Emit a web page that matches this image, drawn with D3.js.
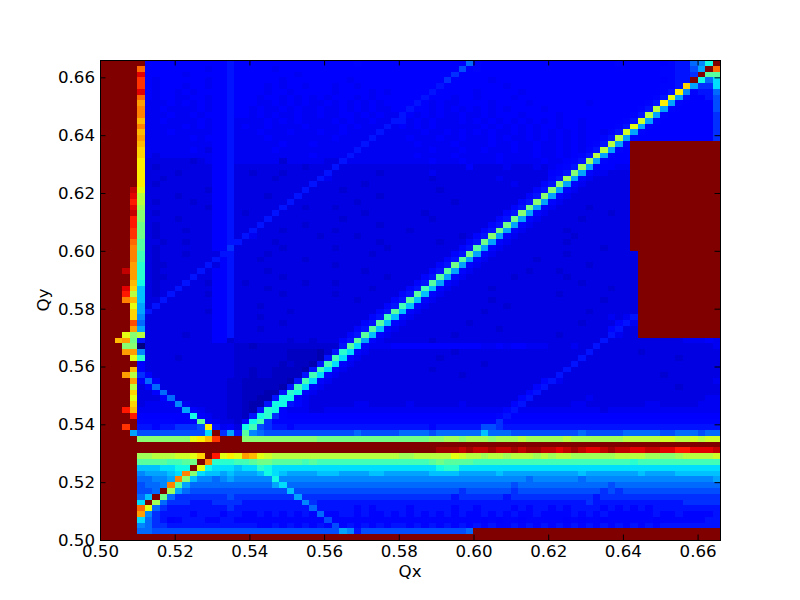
<!DOCTYPE html>
<html>
<head>
<meta charset="utf-8">
<script src="https://cdn.jsdelivr.net/npm/d3@7"></script>
<style>
body {margin: 0; background: white;}
text {font-family: "DejaVu Sans", sans-serif;}
</style>
</head>
<body>
<svg id="plot" width="800" height="600"></svg>
<script>
// tick labels
const xTicks = [0.50, 0.52, 0.54, 0.56, 0.58, 0.60, 0.62, 0.64, 0.66];
const yTicks = [0.50, 0.52, 0.54, 0.56, 0.58, 0.60, 0.62, 0.64, 0.66];
const extent = [0.50, 0.666];
const binSize = 0.002;

// one char per cell, 0 (lowest) to z (highest), top row = highest Qy
const levelChars = "0123456789abcdefghijklmnopqrstuvwxyz";
// in-between steps for the dark blues
const halfChars = ["C", "A", "B", "D"];
const halfLevels = [1.5, 2.5, 3.5, 4.5];
const levelRows = [
"zzzzzz4444 4444444544 4444444444 4444D44444 4444444448 D444444444 444444444D 444444D558 9dz",
"zzzzzs4444 4444B44544 444B444444 4444444444 4444444474 D444444444 4444444444 44444DD557 azs",
"zzzzzw4444 4B44444544 444444B444 4444444444 4444444644 4444444444 4444444444 44444DD556 zgg",
"zzzzzu4B44 4444B44544 4444B44444 444B444444 4444446444 44B4444444 4444444444 444444D55z d8c",
"zzzzzu4B44 4B44B44544 44B4B44B44 4B44B44444 4444454444 4444B44444 4444444444 44444DD5oa 66c",
"zzzzzw4B44 B4B4444544 44B44B4444 4B4444B4B4 4444544444 B44444B444 4444444444 44444D5n9D 558",
"zzzzzs4B44 BB44B44544 4B44B4B4B4 B444B4B444 4445444B44 B4444B4444 4444444444 4444D5ma54 457",
"zzzzzqBBB4 B4B4B44544 4BB4B4B4BB 4B4B4B4B44 4454B4BB44 44B4444B44 44444B4444 444D5naD44 447",
"zzzzzrBB4B BBB4B44544 B4BB4B4BB4 BB4B4B4BB4 4544B4B4B4 B4B4B4444B 4444444444 44D5kaD444 447",
"zzzzzrBBB4 BB4B444544 B4B4BB4BB4 BB44B4B4BB 54B4B4BB4B B4B444B444 4B44444444 4D5kaD4444 446",
"zzzzzpBB4B BBB4B445BB BB4B4B4BBB B4B4BB4BB5 5B4B4BBB4B 4B4B4B4B4B 4B44B44444 D5laD44444 446",
"zzzzzrBBBB B4B4B445B4 BB4BBBB4BB BB4B4BBB5B 4B4B4BBBBB B4B4B4B4B4 4B44B4444D 5maD444444 446",
"zzzzzpBBB4 BBBBB445BB B4BBB4BBB4 BB4BBBB5BB BBB4BB4B4B 4B4BB4B4B4 B4B4B44BD5 laD4444444 446",
"zzzzzqBBBB BB4B4445BB BB4BBBBBBB B4BBBB5BBB B4BBB4BB4B BB4B4BB4B4 B4B4B44D5k aD44444444 446",
"zzzzzpBBBB BBBBB445BB BBBB4BBB4B BBBBB5BBBB BB4BBBB4BB BB4BB4BB4B B4B4B4D5ka Dzzzzzzzzz zzz",
"zzzzzoBBBB BB4B3445BB BBB4BBBBBB BBBB5BBBBB BBBB4BBB4B B4BBB4BB4B B4B4BD5kaD 4zzzzzzzzz zzz",
"zzzzzoB3BB BBBBB445BB BBBBBBBB4B BBB5BBBBBB BB4BBBB4BB BBB4BBBB4B B4B4D5kaD4 4zzzzzzzzz zzz",
"zzzzzn3333 33A3B445BB BBBBABBBBB 335BBBBBBB BBBB4BBB4B BBB4BBBBB4 BB4D5jaD44 4zzzzzzzzz zzz",
"zzzzzn3A33 3333344533 3333333A33 3533333333 3333333334 3333B333B3 B4D5jaD44B Bzzzzzzzzz zzz",
"zzzzzn3333 A333344533 A333A33333 5333333A33 3333B33333 3333333333 4D5iaDBB33 3zzzzzzzzz zzz",
"zzzzzn33A3 3333344533 333A333335 B333333333 3333A33333 333B333333 D5jaDB3333 3zzzzzzzzz zzz",
"zzzzzn3A33 3333344533 3333333353 33333A3333 3333333333 33333B333D 5iaDB33333 3zzzzzzzzz zzz",
"zzzzxm3333 3333A44533 3333333533 33A3333333 33333A3333 33333333D5 iaDB333333 3zzzzzzzzz zzz",
"zzzzwk3333 A333344533 33A3335333 3333333A33 3333333333 3333333D5i aDB3333333 3zzzzzzzzz zzz",
"zzzzvk3A33 33A3344533 3333353333 3333A33333 3333333A33 333333D5ia DB33333333 3zzzzzzzzz zzz",
"zzzzwj3333 3333A44533 3333533A33 3A33333333 3333333333 33333D5haD B3333A3333 3zzzzzzzzz zzz",
"zzzzxi3A33 333334453A 3335333333 33333A3333 333A333333 3333D5iaDB 33333333A3 3zzzzzzzzz zzz",
"zzzzvi3333 A333344533 3353333333 33A3333333 3333A33333 333D5haDB3 3333A33333 3zzzzzzzzz zzz",
"zzzzvh3A33 3333344533 3533333A33 3333333A33 3333333333 33D5haDB33 3333333333 3zzzzzzzzz zzz",
"zzzzuh3A33 3A33344533 5333A33333 3A33333333 3A33333333 3D5haDB333 33A3333333 3zzzzzzzzz zzz",
"zzzzuh3A33 3333344535 B33333333A 3333A33333 33333333A3 D5iaDB3333 333A333333 3zzzzzzzzz zzz",
"zzzzsg33A3 3A33344553 333A333333 3333333A33 33333A333D 5haDB33333 33A3333333 3zzzzzzzzz zzz",
"zzzzrg3A33 3333344633 3333A33333 3A333333A3 33333333D5 gaDB333333 3333333A33 3zzzzzzzzz zzz",
"zzzzrf3A33 3A33335533 33A3333333 333333A333 3333333D5h aDB3333333 33A3333333 33zzzzzzzz zzz",
"zzzzrf3A33 3333354533 3A33333A33 3333333333 333333D5ga DB333333A3 3333333333 33zzzzzzzz zzz",
"zzzzqe3AA3 3333534533 3333333333 3A33333333 33333D5haD B333333333 33333A3333 33zzzzzzzz zzz",
"zzzxqe3A33 3335344533 33A3333333 33333A3333 3333D5gaDB 3333333A33 3A33333333 33zzzzzzzz zzz",
"zzzzqe3AA3 3353344533 3333A33333 33333333A3 333D5gaDB3 33333A3333 33A3333333 33zzzzzzzz zzz",
"zzzzpd3A33 3533A4453A 3333333A33 3A33333333 33D5gaDB33 3333333333 3333A33333 33zzzzzzzz zzz",
"zzzwob3A33 5333344533 33A3333333 333333A333 3D5fbDB333 33A3333333 33333333A3 33zzzzzzzz zzz",
"zzzvkb3A35 3333A44533 3333A33333 3A33333333 D5gbDB3333 3333333333 3A33333333 33zzzzzzzz zzz",
"zzzrpb3353 3333344533 3333333333 3333A3333D 5gbDB33333 33A3333333 3333333A33 33zzzzzzzz zzz",
"zzzzma3533 3333344533 3A33333333 33333333D5 fbDB333333 3333A33333 3333333333 33zzzzzzzz zzz",
"zzzzoa5333 3333A44533 33333A3333 3333333D5g bDB3333333 3A33333333 33333A3333 33zzzzzzzz zzz",
"zzzzo93333 3333344533 3A33333333 333333D5fb DB33333333 3333333333 33333333B3 B5zzzzzzzz zzz",
"zzzzt83333 3333344533 3333A33333 33333D5gbD B33333333A 3333333333 3333A3333D 5Bzzzzzzzz zzz",
"zzzzqa3333 3333344533 3A33333333 3333D5gbDB 3333333333 333A333333 33333333D5 33zzzzzzzz zzz",
"zzzmik3333 3A33344533 3333333333 333D5gbDB3 3333333A33 3333333333 3A3333335B 33zzzzzzzz zzz",
"zzpqh53333 3333344A33 33333A33A3 33D5gaDB33 3333A33333 3333333333 3333333533 33333333BB B4B",
"zzzii03333 33333333AA 2AAAAAAAAA AA5gcDBBB4 4444444444 4BB4B44BBB 333B335333 3333333333 33B",
"zzzqq93333 33333333AA AAAAA2222C A5ecDB3333 3333333A33 3333333333 3333353333 33A3333333 333",
"zzzzme3333 A3333333AA AAAAA2222C 5fcDB33333 33333A3333 3333333333 3333533333 3333333A33 333",
"zzzzz43333 33333333AA AAAA2A22C5 fcDB333333 3333333333 3A33333333 3335333333 3333333333 333",
"zzzzp43333 33333333AA 2AA2222C5f cDB3333333 3333A33333 3333333333 3353333333 3333333333 333",
"zzzqk64333 33333333AA 2AA22225fc DB33333333 33333333A3 3333333333 3533333333 33333A3333 333",
"zzzzq48433 3333333AA2 22222C5fcD B333333333 3333333333 333333333D 5B33333333 3333333333 33B",
"zzzzk34833 3333333AA2 2222C5fcDB 3333333333 3333333333 33333333D5 3333333333 3333333A33 333",
"zzzzo33483 3333333AA2 22CC5edDB3 3333333333 3333333333 3333333D53 3333333333 3333333333 333",
"zzzzm33348 3333333AA2 2CC5ddDB33 3333333333 3333333333 333333D533 33333B3333 3333333333 3BB",
"zzzzo3BBBB 9B33333AA2 CC5dd5DB33 3333BB3333 3B333333B3 33333D5333 333BB33333 333BB33333 BBB",
"zzzvpBBBBB Ba4B333AA2 C5edDBBB33 BBBBBBBBBB BBBBBBBBBB BBBBD5BBBB BBBBBBB3BB BBBBBBBBBB BBB",
"zzzzv44444 44d4B33AA2 5de6D44444 4444444444 4444444444 444D544444 4444444444 4444444444 444",
"zzzzzDDDDD 444g4B33AD df6DDDDDDD DDDDDDDDDD DDDDDDDDDD DDD6DDDDDD DDDDDDDDDD DDDDDDDDDD DDD",
"zzzuz55D55 6667n5B43d f7655D5555 5555555555 5555D55555 5776555555 5555555555 5555555555 555",
"zzzza77777 7777cz6a5g 9877777777 7777877777 8888788888 8b88877777 7777877777 8888877888 788",
"zzzzziiiii iimnpuzzzi iiiiiiiiih hhhhhhhhhh hhhhiijjij jjijjjkjjj jjkjjjjjjj kkkkkllkkl kll",
"zzzzzzzzzz zzzzzzzzzz zzzzzzzzzz zzzzzzzzzz zzzzzzzzzz zzzzzzzzzz zzzzzzzzzz zzzzzzzzzz zzz",
"zzzzzzzzzz zzzzzzzzzz zzzzzzzzzz zzzzzzzzzz zzzzzyyyxy xxyxxyxyyx xwxyxwwxyx xwwxxwwvvw wwx",
"zzzzzjjkkk llmozvmnmq pmlkkkkkkk kkkkkkkkkk jjkkkkkmlk kjkkjkkkjk jkkjjjjjjk kkkjjiijkk kkl",
"zzzzzggggf fghzreeeff ghhggggfgf ffffffffff ffffghgggg ffffffffff ffffffffff feffffffff fff",
"zzzzzbbbcc ddzmdcccbc cedccccccc cccccccccc cccccdeecc cccccccccc cccccccccc cccccccccc ccc",
"zzzzz9aaab cricbbabaa abdcbaaaab bbaaaabbaa aaaabbbbaa aaabaaaaaa aaaabaaaaa aabaaaabbb bbb",
"zzzzz8899a rib9989a99 999d999999 9999999999 9999999999 9999999899 9999899999 9999999999 99a",
"zzzzz7889r ga88888888 888ac88888 8888888888 8888888888 8888878888 8888888878 8888888888 888",
"zzzzz778zj a877777777 77777b7777 7777777777 7777777767 7777767777 7777777676 7777777777 777",
"zzzzz8bzh8 6666666766 666666a666 6666666666 6666666566 6666566666 6666665666 6666666666 666",
"zzzzzczj86 6655566665 5555555965 5555555555 5555555555 5555555555 5555565555 5555555566 666",
"zzzzzsm865 5555555655 5555555585 5555D5D555 5D55555D55 D5555D5D55 D5D5555D5D 5D5D555555 555",
"zzzzzq9655 55D555D55D D5D5D5D5D8 DD55D5DD5D 5D5D5D5D5D D5D5D5DD5D DDD5D5D5DD DDDD5DD5DD DD5",
"zzzzzc8654 D555DD55DD DDDDDDDDDD 7DDDDDDDDD DDDDDDDDDD D4D4DD4DDD DD4D4DD4DD DDDD4DDDDD D55",
"zzzzz98665 5555555555 5DD5D5D5D5 D7D5D5D5D5 5D5D5D5D5D 5D5DD5D5D5 D5D5D5D5D5 D5D5D55555 555",
"zzzzz88777 7777777777 7777777777 77a9577777 7777777778 zzzzzzzzzz zzzzzzzzzz zzzzzzzzzz zzz",
"zzzzzzzzzz zzzzzzzzzz zzzzzzzzzz zzzzzzzzzz zzzzzzzzzz zzzzzzzzzz zzzzzzzzzz zzzzzzzzzz zzz"
];

const svg = d3.select("#plot");

const leftMarg = 100;
const rightEdge = 720;
const topMarg = 60;
const botEdge = 540;
const tickLen = 5.5;
const fontPx = "16.67px";

const x = d3.scaleLinear().domain(extent).range([leftMarg, rightEdge]);
const y = d3.scaleLinear().domain(extent).range([botEdge, topMarg]);

// matplotlib jet
const jetR = d3.scaleLinear().domain([0, 0.35, 0.66, 0.89, 1]).range([0, 0, 255, 255, 127.5]);
const jetG = d3.scaleLinear().domain([0, 0.125, 0.375, 0.64, 0.91, 1]).range([0, 0, 255, 255, 0, 0]);
const jetB = d3.scaleLinear().domain([0, 0.11, 0.34, 0.65, 1]).range([127.5, 255, 255, 0, 0]);
function jet(v) {
    return d3.rgb(jetR(v), jetG(v), jetB(v)).formatHex();
}

const level = d3.scaleLinear().domain([0, levelChars.length - 1]).range([0, 1]);

function charToLevel(ch) {
    const h = halfChars.indexOf(ch);
    return h >= 0 ? halfLevels[h] : levelChars.indexOf(ch);
}

const cells = [];
levelRows.forEach(function(row, r) {
    const chars = row.replace(/ /g, "");
    const rowTop = extent[1] - r * binSize;
    chars.split("").forEach(function(ch, c) {
        cells.push({qx: extent[0] + c * binSize, qy: rowTop, v: level(charToLevel(ch))});
    });
});

svg.append("g")
    .attr("shape-rendering", "crispEdges")
    .selectAll("rect")
    .data(cells)
    .enter()
    .append("rect")
        .attr("x", function(d) {return x(d.qx)})
        .attr("y", function(d) {return y(d.qy)})
        .attr("width", function(d) {return x(d.qx + binSize) - x(d.qx)})
        .attr("height", function(d) {return y(d.qy - binSize) - y(d.qy)})
        .attr("fill", function(d) {return jet(d.v)});

//axes, ticks point inward on all four sides
function styleAxis(g) {
    g.select(".domain").remove();
    g.selectAll("line").attr("stroke", "black").attr("stroke-width", 1);
    g.selectAll("text").attr("fill", "black").attr("font-size", fontPx).attr("font-family", "DejaVu Sans");
}

svg.append("g")
    .attr("transform", "translate(0," + botEdge + ")")
    .call(d3.axisBottom(x).tickValues(xTicks).tickFormat(d3.format(".2f")).tickSizeInner(-tickLen).tickSizeOuter(0).tickPadding(5))
    .call(styleAxis);

svg.append("g")
    .attr("transform", "translate(0," + topMarg + ")")
    .call(d3.axisTop(x).tickValues(xTicks).tickFormat("").tickSizeInner(-tickLen).tickSizeOuter(0))
    .call(styleAxis);

svg.append("g")
    .attr("transform", "translate(" + leftMarg + ",0)")
    .call(d3.axisLeft(y).tickValues(yTicks).tickFormat(d3.format(".2f")).tickSizeInner(-tickLen).tickSizeOuter(0).tickPadding(5))
    .call(styleAxis);

svg.append("g")
    .attr("transform", "translate(" + rightEdge + ",0)")
    .call(d3.axisRight(y).tickValues(yTicks).tickFormat("").tickSizeInner(-tickLen).tickSizeOuter(0))
    .call(styleAxis);

svg.append("rect")
    .attr("x", leftMarg)
    .attr("y", topMarg)
    .attr("width", rightEdge - leftMarg)
    .attr("height", botEdge - topMarg)
    .attr("fill", "none")
    .attr("stroke", "black")
    .attr("stroke-width", 1)
    .attr("shape-rendering", "crispEdges");

//axis labels
svg.append("text")
    .attr("text-anchor", "middle")
    .attr("font-size", fontPx)
    .attr("x", (leftMarg + rightEdge) / 2)
    .attr("y", 577)
    .text("Qx");

svg.append("text")
    .attr("text-anchor", "middle")
    .attr("font-size", fontPx)
    .attr("transform", "translate(49," + (topMarg + botEdge) / 2 + ") rotate(-90)")
    .text("Qy");
</script>
</body>
</html>
